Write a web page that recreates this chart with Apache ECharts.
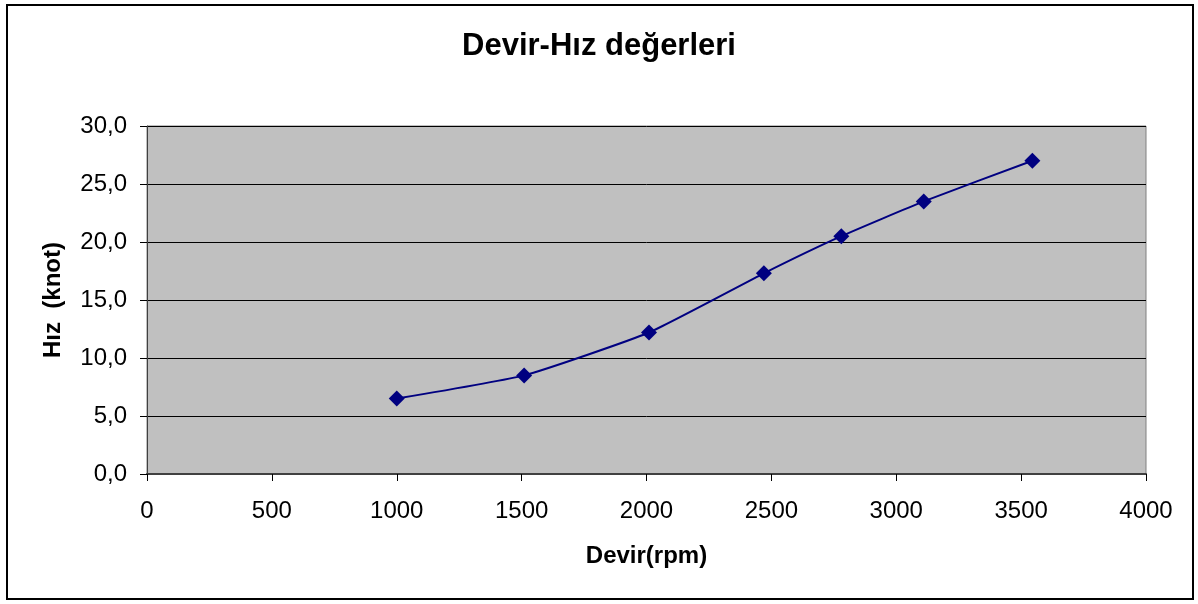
<!DOCTYPE html>
<html>
<head>
<meta charset="utf-8">
<script src="https://cdn.jsdelivr.net/npm/echarts@6/dist/echarts.min.js"></script>
<style>
html,body{margin:0;padding:0;background:#fff;}
#chart{width:1198px;height:604px;}
</style>
</head>
<body>
<div id="chart"></div>
<script>
// devir (rpm) ve hiz (knot) degerleri
var devir = [1000, 1510, 2010, 2470, 2780, 3110, 3545];
var hiz = [6.5, 8.5, 12.2, 17.3, 20.5, 23.5, 27.0];

function initChart(){
	var domain = document.getElementById("chart");
	var myChart = echarts.init(domain);
	var pts = [];
	for (var i = 0; i < devir.length; i++) {
		pts.push([devir[i], hiz[i]]);
	}
	var font = "'Liberation Sans', Arial, sans-serif";
	var option = {
		animation: false,
		backgroundColor: '#fff',
		title: {
			text: 'Devir-Hız değerleri',
			left: 'center',
			top: 26,
			textStyle: {fontFamily: font, fontSize: 31, fontWeight: 'bold', color: '#000'}
		},
		graphic: [{
			type: 'rect',
			shape: {x: 7, y: 5, width: 1186, height: 594},
			style: {fill: 'none', stroke: '#000', lineWidth: 2},
			silent: true
		}],
		grid: {left: 147, right: 52, top: 126, bottom: 130, show: true, backgroundColor: '#C0C0C0', borderColor: '#808080', borderWidth: 1},
		xAxis: {
			type: 'value',
			min: 0, max: 4000, interval: 500,
			name: 'Devir(rpm)',
			nameLocation: 'middle',
			nameGap: 70,
			nameTextStyle: {fontFamily: font, fontSize: 24, fontWeight: 'bold', color: '#000'},
			axisLine: {show: true, lineStyle: {color: '#404040', width: 2}},
			axisTick: {show: true, length: 7, lineStyle: {color: '#000'}},
			axisLabel: {
				fontFamily: font, fontSize: 24, color: '#000', margin: 25,
				formatter: function(v){ return String(v); }
			},
			splitLine: {show: false}
		},
		yAxis: {
			type: 'value',
			min: 0, max: 30, interval: 5,
			name: 'Hız  (knot)',
			nameLocation: 'middle',
			nameGap: 82,
			nameTextStyle: {fontFamily: font, fontSize: 24, fontWeight: 'bold', color: '#000'},
			axisLine: {show: true, lineStyle: {color: '#404040', width: 1}},
			axisTick: {show: true, length: 7, lineStyle: {color: '#000'}},
			axisLabel: {
				fontFamily: font, fontSize: 24, color: '#000', margin: 20,
				formatter: function(v){ return v.toFixed(1).replace('.', ','); }
			},
			splitLine: {show: true, lineStyle: {color: '#000', width: 1}}
		},
		series: [{
			type: 'line',
			data: pts,
			smooth: 0.15,
			symbol: 'diamond',
			symbolSize: 16,
			itemStyle: {color: '#000080'},
			lineStyle: {color: '#000080', width: 2}
		}]
	};
	myChart.setOption(option);
}
initChart();
</script>
</body>
</html>
